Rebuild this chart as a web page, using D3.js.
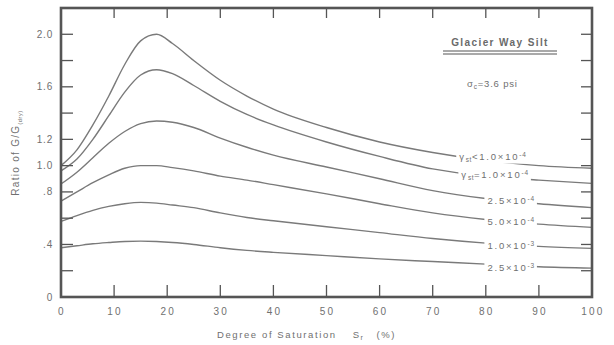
<!DOCTYPE html>
<html><head><meta charset="utf-8">
<script src="https://cdn.jsdelivr.net/npm/d3@7/dist/d3.min.js"></script>
<style>
html,body{margin:0;padding:0;background:#fff;}
svg{display:block;font-family:"Liberation Sans",Arial,sans-serif;}
</style></head>
<body><svg id="c" width="614" height="345"></svg>
<script>
// Degree of saturation (%) sample points
const saturation = [0,3,6,9,12,15,18,21,25,30,35,40,50,60,70,80,90,100];
// Ratio G/G(dry) for each shear strain level
const gLt1e4  = [1.00,1.12,1.31,1.53,1.77,1.95,2.00,1.93,1.80,1.65,1.53,1.43,1.29,1.18,1.10,1.04,1.00,0.98];
const gEq1e4  = [0.96,1.05,1.20,1.38,1.56,1.69,1.73,1.70,1.61,1.49,1.39,1.31,1.18,1.07,0.975,0.92,0.89,0.865];
const g2_5e4  = [0.86,0.95,1.06,1.17,1.26,1.32,1.34,1.33,1.29,1.21,1.14,1.08,0.99,0.90,0.81,0.75,0.71,0.68];
const g5_0e4  = [0.73,0.80,0.87,0.93,0.98,1.00,1.00,0.985,0.96,0.92,0.89,0.855,0.785,0.71,0.64,0.59,0.555,0.53];
const g1_0e3  = [0.575,0.62,0.66,0.69,0.71,0.72,0.715,0.70,0.68,0.64,0.605,0.58,0.535,0.49,0.445,0.41,0.385,0.37];
const g2_5e3  = [0.375,0.39,0.405,0.415,0.423,0.425,0.422,0.415,0.40,0.375,0.355,0.34,0.315,0.29,0.27,0.25,0.23,0.22];
const seriesValues = [gLt1e4, gEq1e4, g2_5e4, g5_0e4, g1_0e3, g2_5e3];
// Curve labels: [prefix, mantissa, exponent]
const seriesLabels = [["<","1.0","-4"],["=","1.0","-4"],["","2.5","-4"],["","5.0","-4"],["","1.0","-3"],["","2.5","-3"]];
const xTicks = [0,10,20,30,40,50,60,70,80,90,100];
const yTicksLabeled = [0,0.4,0.8,1.0,1.2,1.6,2.0];
const yTickLabelText = ["0",".4",".8","1.0","1.2","1.6","2.0"];
const yTicksAll = [0.2,0.4,0.6,0.8,1.0,1.2,1.4,1.6,1.8,2.0];

const svg = d3.select("#c");
const L=61, R=592, T=8, B=297;
const x = d3.scaleLinear().domain([0,100]).range([L,R]);
const y = d3.scaleLinear().domain([0,2.2]).range([B,T]);
const ink = "#555", txt="#707070";

// curves
const line = d3.line().x((d,i)=>x(saturation[i])).y(d=>y(d)).curve(d3.curveMonotoneX);
svg.append("g").selectAll("path").data(seriesValues).join("path")
  .attr("d", line).attr("fill","none").attr("stroke","#7a7a7a").attr("stroke-width",1.4);

// curve labels with white background
const labelStart = [75.0,75.4,80.3,80.3,80.3,80.3];
const labelDy = [-5,-2,0,0,1,2];
const interp = (vals, s) => { const i = Math.min(d3.bisectRight(saturation, s)-1, saturation.length-2); const t=(s-saturation[i])/(saturation[i+1]-saturation[i]); return vals[i]+(vals[i+1]-vals[i])*t; };
const lg = svg.append("g");
seriesLabels.forEach((lb,k)=>{
  const g = lg.append("g");
  const sx = x(labelStart[k]);
  const t = g.append("text").attr("x",sx).attr("y",0)
    .attr("font-size",9.5).attr("fill",txt).attr("letter-spacing",1.8);
  if (lb[0]) {
    t.append("tspan").text("γ");
    t.append("tspan").attr("font-size",6.5).attr("letter-spacing",0.5).attr("dy",2).text("st");
    t.append("tspan").attr("dy",-2).text(lb[0]);
  }
  t.append("tspan").text(lb[1]+"×10");
  t.append("tspan").attr("font-size",6.5).attr("letter-spacing",0.8).attr("dy",-3).text(lb[2]);
  const bb = t.node().getBBox();
  const mid = labelStart[k] + (bb.width/2)/((R-L)/100);
  const cy = y(interp(seriesValues[k], mid)) + labelDy[k];
  t.attr("y", cy + 3.5);
  const bb2 = t.node().getBBox();
  g.insert("rect","text").attr("x",bb2.x-3).attr("y",bb2.y-1).attr("width",bb2.width+5).attr("height",bb2.height+2).attr("fill","#fff");
});

// frame
svg.append("rect").attr("x",L).attr("y",T).attr("width",R-L).attr("height",B-T)
  .attr("fill","none").attr("stroke",ink).attr("stroke-width",2.6);

// ticks
const tk = svg.append("g").attr("stroke",ink).attr("stroke-width",1.3);
xTicks.slice(1,-1).forEach(v=>{
  tk.append("line").attr("x1",x(v)).attr("x2",x(v)).attr("y1",B).attr("y2",B-12);
  tk.append("line").attr("x1",x(v)).attr("x2",x(v)).attr("y1",T).attr("y2",T+10);
});
yTicksAll.forEach(v=>{
  tk.append("line").attr("x1",L).attr("x2",L+12).attr("y1",y(v)).attr("y2",y(v));
  tk.append("line").attr("x1",R).attr("x2",R-11).attr("y1",y(v)).attr("y2",y(v));
});

// tick labels
svg.append("g").selectAll("text").data(xTicks).join("text")
  .attr("x",d=>x(d)+1).attr("y",315).attr("text-anchor","middle")
  .attr("font-size",10).attr("fill",txt).attr("letter-spacing",2.2).text(d=>d);
svg.append("g").selectAll("text").data(yTicksLabeled).join("text")
  .attr("x",L-8).attr("y",d=>y(d)+3.5).attr("text-anchor","end")
  .attr("font-size",10).attr("fill",txt).attr("letter-spacing",0.8).text((d,i)=>yTickLabelText[i]);

// axis titles
const xt = svg.append("text").attr("x",217).attr("y",338)
  .attr("font-size",9.5).attr("fill",txt).attr("letter-spacing",1.6);
xt.append("tspan").text("Degree of Saturation");
xt.append("tspan").attr("dx",16).text("S");
xt.append("tspan").attr("font-size",7).attr("dy",2).text("r");
xt.append("tspan").attr("dy",-2).attr("dx",12).text("(%)");

const yt = svg.append("text").attr("transform","translate(19,153) rotate(-90)").attr("text-anchor","middle")
  .attr("font-size",10).attr("fill",txt).attr("letter-spacing",1.3);
yt.append("tspan").text("Ratio of  G/G");
yt.append("tspan").attr("font-size",5.5).attr("letter-spacing",0.6).attr("dy",3).text("(dry)");

// legend
svg.append("text").attr("x",500).attr("y",46).attr("text-anchor","middle")
  .attr("font-size",10).attr("font-weight","bold").attr("fill","#6a6a6a").attr("letter-spacing",1.4).text("Glacier Way Silt");
svg.append("line").attr("x1",443).attr("x2",557).attr("y1",51).attr("y2",51).attr("stroke",ink).attr("stroke-width",1.2);
svg.append("line").attr("x1",443).attr("x2",557).attr("y1",54).attr("y2",54).attr("stroke",ink).attr("stroke-width",1.2);
const st = svg.append("text").attr("x",467).attr("y",87).attr("font-size",9.5).attr("fill",txt).attr("letter-spacing",0.8);
st.append("tspan").text("σ");
st.append("tspan").attr("font-size",6.5).attr("dy",2).text("c");
st.append("tspan").attr("dy",-2).text("=3.6 psi");
</script></body></html>
